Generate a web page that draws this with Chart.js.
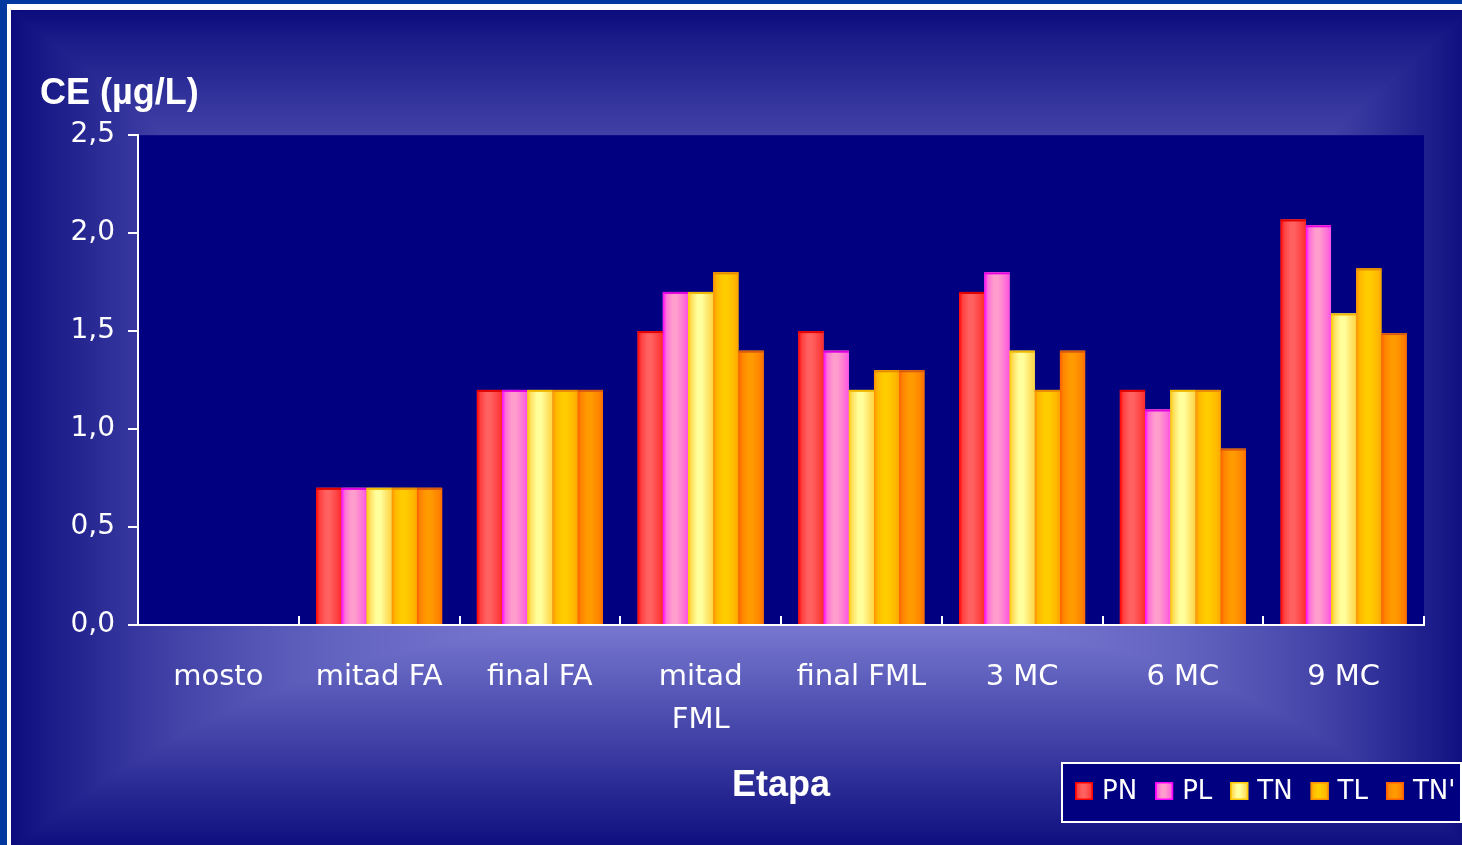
<!DOCTYPE html>
<html><head><meta charset="utf-8">
<script src="https://cdn.jsdelivr.net/npm/chart.js@4.4.1/dist/chart.umd.min.js"></script>
<style>html,body{margin:0;padding:0;background:#0038a0;overflow:hidden}#wrap{width:1462px;height:845px;position:relative}</style>
</head><body><div id="wrap"><canvas id="c" width="1462" height="845"></canvas></div>
<script>
// ---- data ----
const categories = ['mosto', 'mitad FA', 'final FA', ['mitad', 'FML'], 'final FML', '3 MC', '6 MC', '9 MC'];
const seriesNames = ['PN', 'PL', 'TN', 'TL', "TN'"];
const PN  = [0, 0.7, 1.2, 1.5, 1.5, 1.7, 1.2, 2.07];
const PL  = [0, 0.7, 1.2, 1.7, 1.4, 1.8, 1.1, 2.04];
const TN  = [0, 0.7, 1.2, 1.7, 1.2, 1.4, 1.2, 1.59];
const TL  = [0, 0.7, 1.2, 1.8, 1.3, 1.2, 1.2, 1.82];
const TNp = [0, 0.7, 1.2, 1.4, 1.3, 1.4, 0.9, 1.49];
const yTicks = [0, 0.5, 1.0, 1.5, 2.0, 2.5];
const yTitle = 'CE (µg/L)';
const xTitle = 'Etapa';

// ---- styles ----
const seriesValues = [PN, PL, TN, TL, TNp];
const palette = [
  {edge: '#ff0000', mid: '#ff4040', center: '#ff6060', right: '#ff2a2a', top: '#e00000'},
  {edge: '#ff00ff', mid: '#ff70d8', center: '#ff9dcc', right: '#ff50e8', top: '#e000e0'},
  {edge: '#ffc800', mid: '#ffe060', center: '#ffff9c', right: '#ffd640', top: '#f0b800'},
  {edge: '#ff9000', mid: '#ffb800', center: '#ffcc00', right: '#ffa400', top: '#e88a00'},
  {edge: '#ff6000', mid: '#ff8400', center: '#ff9a00', right: '#ff6c00', top: '#d85a10'}
];
const W = 1462, H = 845;

let bgCache = null;
function buildBackground() {
  const off = document.createElement('canvas');
  off.width = W; off.height = H;
  const c = off.getContext('2d');
  c.fillStyle = '#0038a0'; c.fillRect(0, 0, W, H);
  c.fillStyle = '#ffffff'; c.fillRect(7, 4, W, H);
  const x0 = 11, y0 = 10;
  const img = c.getImageData(0, 0, W, H);
  const d = img.data;
  const cx = 780, cy = 620;
  const L = [122, 122, 210], D = [12, 12, 126];
  for (let y = y0; y < H; y++) {
    let fy;
    if (y < cy) fy = Math.pow((cy - y) / (cy - y0), 2.8);
    else fy = (y - cy) / (850 - cy);
    for (let x = x0; x < W; x++) {
      let tx = x < cx ? (cx - x) / (cx - x0) : (x - cx) / (1470 - cx);
      let fx = Math.pow(tx, 2.8);
      let f = Math.min(1, Math.max(fx, fy));
      const i = (y * W + x) * 4;
      d[i] = L[0] + (D[0] - L[0]) * f;
      d[i + 1] = L[1] + (D[1] - L[1]) * f;
      d[i + 2] = L[2] + (D[2] - L[2]) * f;
      d[i + 3] = 255;
    }
  }
  c.putImageData(img, 0, 0);
  return off;
}

const backgroundPlugin = {
  id: 'bg',
  beforeDraw(chart) {
    const ctx = chart.ctx;
    if (!bgCache) bgCache = buildBackground();
    ctx.save();
    ctx.drawImage(bgCache, 0, 0);
    const a = chart.chartArea;
    ctx.fillStyle = '#000080';
    ctx.fillRect(a.left, a.top, a.right - a.left, a.bottom - a.top);
    ctx.restore();
  }
};

function barGradient(ctx, l, w, p) {
  const g = ctx.createLinearGradient(l, 0, l + w, 0);
  g.addColorStop(0, p.edge);
  g.addColorStop(0.14, p.mid);
  g.addColorStop(0.38, p.center);
  g.addColorStop(0.55, p.center);
  g.addColorStop(0.85, p.mid);
  g.addColorStop(1, p.right);
  return g;
}

const barShadePlugin = {
  id: 'barShade',
  afterDatasetsDraw(chart) {
    const ctx = chart.ctx, a = chart.chartArea;
    ctx.save();
    ctx.beginPath(); ctx.rect(a.left, a.top, a.right - a.left, a.bottom - a.top); ctx.clip();
    chart.data.datasets.forEach((ds, di) => {
      const meta = chart.getDatasetMeta(di);
      const p = palette[di];
      meta.data.forEach(bar => {
        const {x, y, base, width} = bar.getProps(['x', 'y', 'base', 'width'], true);
        const h = base - y;
        if (h < 0.5) return;
        const l = x - width / 2;
        ctx.fillStyle = barGradient(ctx, l, width, p);
        ctx.fillRect(l, y, width, h);
        ctx.fillStyle = p.top;
        ctx.fillRect(l, y, width, 2);
      });
    });
    ctx.restore();
  }
};

const legendPlugin = {
  id: 'boxLegend',
  afterDraw(chart) {
    const ctx = chart.ctx;
    ctx.save();
    const bx = 1062, by = 763, bw = 399, bh = 59;
    ctx.fillStyle = '#000080';
    ctx.fillRect(bx, by, bw, bh);
    ctx.strokeStyle = '#ffffff'; ctx.lineWidth = 2;
    ctx.strokeRect(bx, by, bw, bh);
    ctx.font = '26px "DejaVu Sans"';
    ctx.textBaseline = 'middle';
    ctx.textAlign = 'left';
    let x = 1075; const cy = 791;
    chart.data.datasets.forEach((ds, di) => {
      const p = palette[di];
      const s = 18;
      ctx.fillStyle = barGradient(ctx, x, s, p);
      ctx.fillRect(x, cy - s / 2, s, s);
      ctx.strokeStyle = p.edge; ctx.lineWidth = 1.5;
      ctx.strokeRect(x + 0.75, cy - s / 2 + 0.75, s - 1.5, s - 1.5);
      ctx.fillStyle = '#ffffff';
      ctx.fillText(ds.label, x + 27, cy + 1);
      x += 27 + ctx.measureText(ds.label).width + 18;
    });
    ctx.restore();
  }
};

const datasets = seriesNames.map((name, i) => ({
  label: name,
  data: seriesValues[i],
  backgroundColor: palette[i].center,
  borderWidth: 0,
  categoryPercentage: 0.784,
  barPercentage: 1.0
}));

new Chart(document.getElementById('c'), {
  type: 'bar',
  data: {labels: categories, datasets},
  plugins: [backgroundPlugin, barShadePlugin, legendPlugin],
  options: {
    responsive: false,
    animation: false,
    devicePixelRatio: 1,
    layout: {padding: {left: 40, right: 38, top: 0, bottom: 0}},
    plugins: {
      legend: {display: false},
      tooltip: {enabled: false},
      title: {
        display: true, text: yTitle, align: 'start', color: '#ffffff',
        font: {family: 'Liberation Sans', weight: 'bold', size: 36, lineHeight: 1.2},
        padding: {top: 72, bottom: 20}
      }
    },
    scales: {
      x: {
        grid: {display: true, drawOnChartArea: false, drawTicks: true, tickLength: -9, color: '#ffffff', lineWidth: 2, offset: true, z: 1},
        border: {display: true, color: '#ffffff', width: 2, z: 1},
        ticks: {color: '#ffffff', padding: 40.5, maxRotation: 0, autoSkip: false,
          font: {family: 'DejaVu Sans', size: 29, lineHeight: 1.48}},
        title: {display: true, text: xTitle, color: '#ffffff',
          font: {family: 'Liberation Sans', weight: 'bold', size: 36, lineHeight: 1.2},
          padding: {top: 0, bottom: 37}},
        afterFit: s => { s.height = 220; }
      },
      y: {
        min: 0, max: 2.5,
        grid: {display: true, drawOnChartArea: false, drawTicks: true, tickLength: 10, color: '#ffffff', lineWidth: 2},
        border: {display: true, color: '#ffffff', width: 2, z: 1},
        ticks: {color: '#ffffff', padding: 13, font: {family: 'DejaVu Sans', size: 28},
          callback: v => Number(v).toFixed(1).replace('.', ',')},
        afterBuildTicks: s => { s.ticks = yTicks.map(v => ({value: v})); },
        afterFit: s => { s.width = 98; }
      }
    }
  }
});
</script>
</body></html>
